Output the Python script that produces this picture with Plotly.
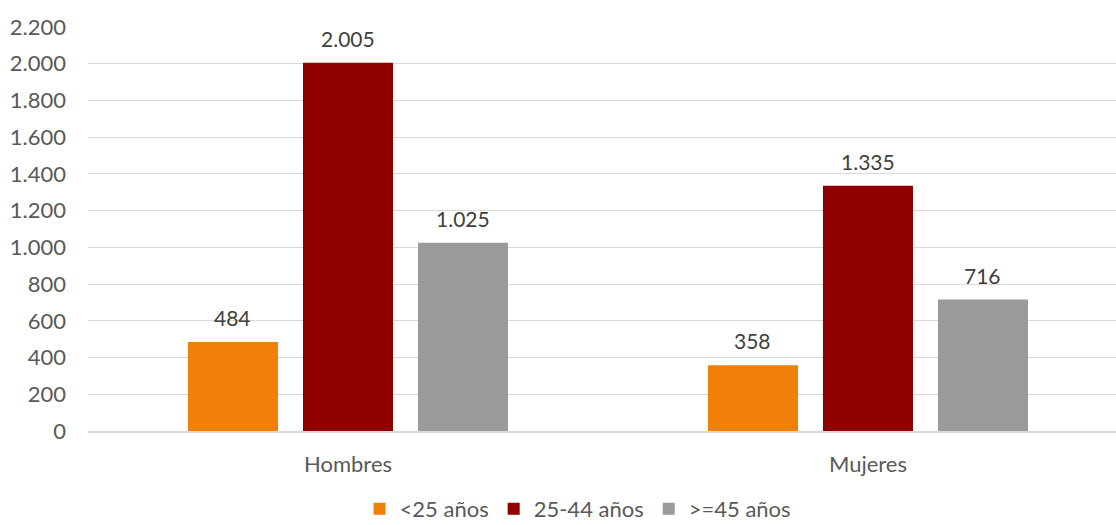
import plotly.graph_objects as go

categories = ["Hombres", "Mujeres"]
series_names = ["<25 años", "25-44 años", ">=45 años"]
values_lt25 = [484, 358]
values_25_44 = [2005, 1335]
values_ge45 = [1025, 716]
colors = ["#F0800A", "#900000", "#9A9A9A"]

all_series = [values_lt25, values_25_44, values_ge45]

fig = go.Figure()
for name, vals, col in zip(series_names, all_series, colors):
    fig.add_trace(go.Bar(
        x=categories, y=vals, name=name,
        marker=dict(color=col, line=dict(width=0)),
    ))

# value labels above bars
slot_px = 115
for i, vals in enumerate(all_series):
    for cat, v in zip(categories, vals):
        fig.add_annotation(
            x=cat, y=v, xref="x", yref="y",
            text=f"{v:,}".replace(",", "."),
            showarrow=False, xanchor="center", yanchor="bottom",
            xshift=(i - 1) * slot_px, yshift=10,
            font=dict(size=21, color="#404040", family="Lato, sans-serif"),
        )

fig.update_layout(
    width=1116, height=525,
    margin=dict(l=88, r=0, t=27, b=94, autoexpand=False),
    paper_bgcolor="white", plot_bgcolor="white",
    separators=",.",
    barmode="group", bargap=0.3365, bargroupgap=0.217,
    font=dict(family="Lato, sans-serif", color="#595959", size=21),
    showlegend=True,
    legend=dict(orientation="h", x=0.4767, xanchor="center", y=-0.245, yanchor="bottom",
                font=dict(size=22, color="#595959"), traceorder="normal",
                itemwidth=30, itemsizing="constant", tracegroupgap=0,
                bgcolor="rgba(0,0,0,0)", borderwidth=0),
    xaxis=dict(showline=True, linecolor="#d9d9d9", linewidth=1.5, ticks="",
               range=[-0.5, 1.477],
               tickfont=dict(size=22, color="#595959"), ticklabelstandoff=13,
               automargin=False),
    yaxis=dict(range=[0, 2200], dtick=200, tickformat=",", showgrid=True,
               gridcolor="#d9d9d9", gridwidth=1, zeroline=False,
               tickfont=dict(size=22, color="#595959"), ticklabelstandoff=21,
               automargin=False),
)

fig.write_html("out.html", config={"displayModeBar": False},
               post_script="document.body.style.margin='0';document.body.style.overflow='hidden';")
